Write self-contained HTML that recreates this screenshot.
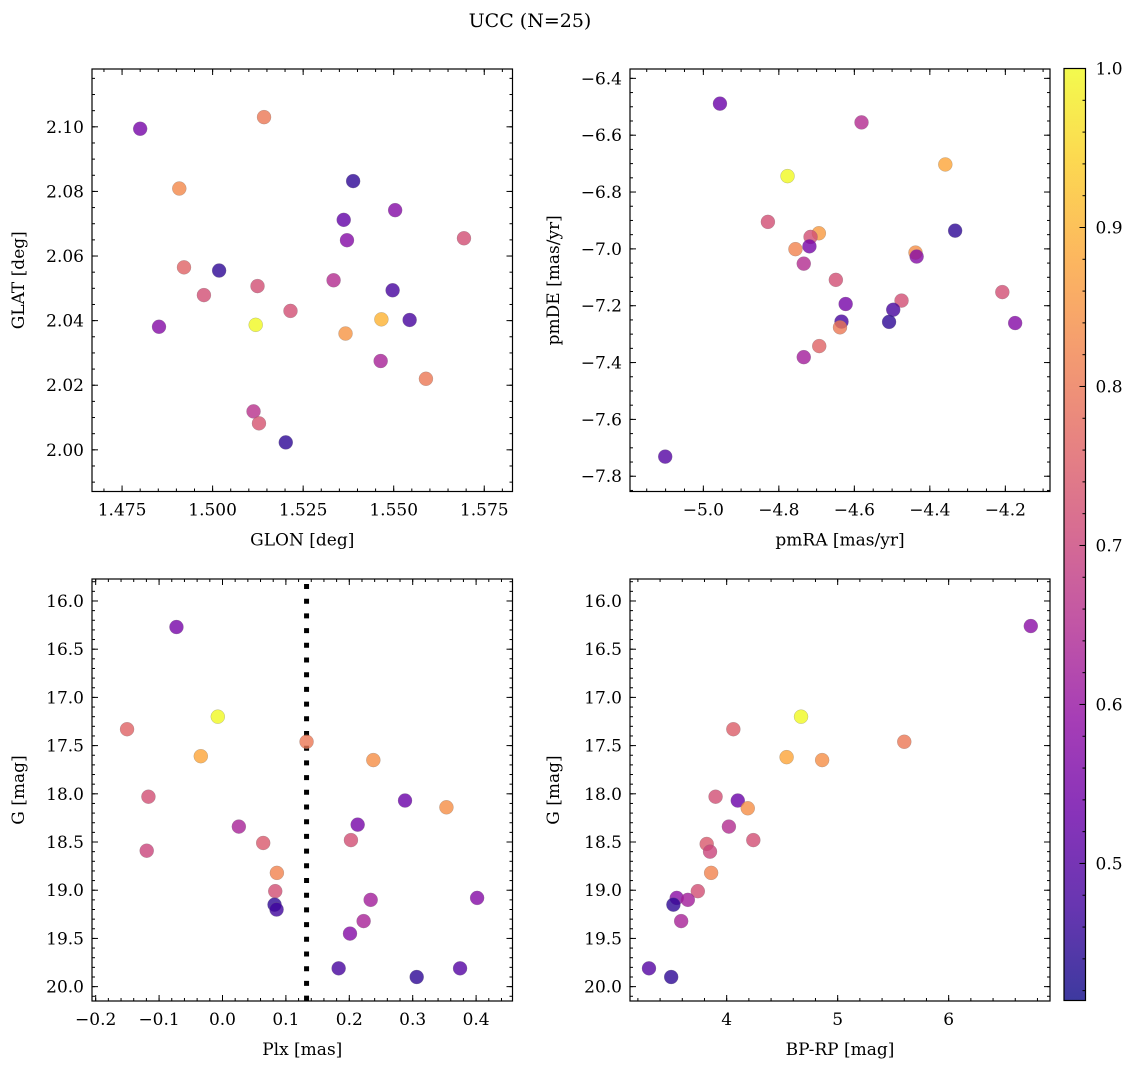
<!DOCTYPE html>
<html><head><meta charset="utf-8"><style>
body{margin:0;background:#fff;overflow:hidden}
svg{display:block;font-family:"DejaVu Serif","Liberation Serif",serif}
</style></head><body>
<svg id="fig" width="1136" height="1068" viewBox="0 0 1136 1068">
<text x="530" y="27" font-size="19" text-anchor="middle">UCC (N=25)</text>
</svg>
<script>
// ---- data ----
const glon = [1.4800,1.5142,1.4908,1.5388,1.5504,1.5362,1.5371,1.5694,1.4921,1.5018,1.5124,1.4976,1.5334,1.5497,1.5215,1.5119,1.4852,1.5466,1.5544,1.5367,1.5464,1.5589,1.5113,1.5128,1.5202];
const glat = [2.0994,2.1030,2.0809,2.0832,2.0742,2.0712,2.0649,2.0655,2.0565,2.0555,2.0507,2.0479,2.0525,2.0494,2.0430,2.0387,2.0381,2.0404,2.0402,2.0360,2.0275,2.0220,2.0119,2.0082,2.0023];
const probA = [0.55,0.80,0.83,0.45,0.57,0.52,0.57,0.72,0.76,0.45,0.72,0.72,0.65,0.48,0.72,1.0,0.57,0.90,0.48,0.85,0.63,0.80,0.66,0.73,0.45];

const pmra = [-4.956,-4.581,-4.777,-4.359,-4.829,-4.333,-4.694,-4.716,-4.719,-4.756,-4.734,-4.438,-4.435,-4.649,-4.623,-4.475,-4.497,-4.508,-4.634,-4.638,-4.208,-4.174,-4.693,-4.734,-5.101];
const pmde = [-6.489,-6.555,-6.744,-6.703,-6.905,-6.936,-6.945,-6.958,-6.991,-7.001,-7.052,-7.013,-7.027,-7.109,-7.194,-7.182,-7.214,-7.257,-7.256,-7.276,-7.152,-7.261,-7.342,-7.381,-7.731];
const probB = [0.53,0.65,1.0,0.88,0.72,0.45,0.86,0.72,0.55,0.82,0.65,0.84,0.57,0.72,0.55,0.72,0.48,0.45,0.48,0.80,0.72,0.57,0.76,0.62,0.50];

const plx = [-0.0726,-0.0074,-0.1505,0.1326,-0.0342,0.2379,-0.1168,0.2879,0.3532,0.0258,0.2132,0.0642,0.2026,-0.1195,0.0858,0.0832,0.2337,0.4016,0.0821,0.0853,0.2226,0.2011,0.1832,0.3747,0.3063];
const gmagC = [16.27,17.20,17.33,17.46,17.61,17.65,18.03,18.07,18.14,18.34,18.32,18.51,18.48,18.59,18.82,19.01,19.10,19.08,19.15,19.20,19.32,19.45,19.81,19.81,19.90];
const probC = [0.55,1.0,0.76,0.80,0.88,0.84,0.72,0.53,0.84,0.63,0.55,0.74,0.72,0.70,0.82,0.72,0.62,0.57,0.45,0.47,0.63,0.57,0.48,0.50,0.45];
const plxLine = [0.1326];

const bprp = [6.74,4.67,4.06,5.60,4.54,4.86,3.90,4.10,4.19,4.02,4.24,3.82,3.85,3.86,3.74,3.55,3.65,3.52,3.59,3.30,3.50];
const gmagD = [16.26,17.20,17.33,17.46,17.62,17.65,18.03,18.07,18.15,18.34,18.48,18.52,18.60,18.82,19.01,19.08,19.10,19.15,19.32,19.81,19.90];
const probD = [0.58,1.0,0.75,0.80,0.88,0.84,0.72,0.53,0.84,0.65,0.72,0.74,0.70,0.82,0.72,0.58,0.62,0.45,0.63,0.50,0.45];

const cbTicks = [0.5,0.6,0.7,0.8,0.9,1.0];
const VMIN = 0.4138, VMAX = 1.0;

// ---- helpers ----
const NS = "http://www.w3.org/2000/svg";
const svg = document.getElementById('fig');
function mk(tag, attrs, parent){const e=document.createElementNS(NS,tag);for(const k in attrs)e.setAttribute(k,attrs[k]);(parent||svg).appendChild(e);return e;}
const plasma=[[13,8,135],[65,4,157],[106,0,168],[143,13,164],[177,42,144],[204,71,120],[225,100,98],[242,132,75],[252,166,54],[252,206,37],[240,249,33]];
function cmap(v){let t=(v-VMIN)/(VMAX-VMIN);t=Math.max(0,Math.min(1,t))*10;const i=Math.min(9,Math.floor(t)),f=t-i;const a=plasma[i],b=plasma[i+1];return `rgb(${a.map((x,j)=>Math.round(x+(b[j]-x)*f)).join(',')})`;}
function fmt(v,d){const s=Math.abs(v).toFixed(d);return (v<-1e-9?'\u2212':'')+s;}
const TF=17, LF=17, ALPHA=0.8;

function panel(o){
  const g=mk('g',{});
  
  
  const X=v=>o.px0+(v-o.x0)/(o.x1-o.x0)*(o.px1-o.px0);
  const Y=o.inv ? (v=>o.py0+(v-o.y0)/(o.y1-o.y0)*(o.py1-o.py0))
                : (v=>o.py1-(v-o.y0)/(o.y1-o.y0)*(o.py1-o.py0));
  const eps=1e-9;
  for(let k=Math.ceil(o.x0/o.xm-eps); k*o.xm<=o.x1+eps; k++){const x=X(k*o.xm);
    mk('line',{x1:x,x2:x,y1:o.py1,y2:o.py1-3,stroke:'#000','stroke-width':1},g);
    mk('line',{x1:x,x2:x,y1:o.py0,y2:o.py0+3,stroke:'#000','stroke-width':1},g);}
  for(let k=Math.ceil(o.y0/o.ym-eps); k*o.ym<=o.y1+eps; k++){const y=Y(k*o.ym);
    mk('line',{x1:o.px0,x2:o.px0+3,y1:y,y2:y,stroke:'#000','stroke-width':1},g);
    mk('line',{x1:o.px1,x2:o.px1-3,y1:y,y2:y,stroke:'#000','stroke-width':1},g);}
  o.xt.forEach(v=>{const x=X(v);
    mk('line',{x1:x,x2:x,y1:o.py1,y2:o.py1-6,stroke:'#000','stroke-width':1},g);
    mk('line',{x1:x,x2:x,y1:o.py0,y2:o.py0+6,stroke:'#000','stroke-width':1},g);
    const t=mk('text',{x:x,y:o.py1+24,'font-size':TF,'text-anchor':'middle'},g);t.textContent=fmt(v,o.xd);
    
    });
  o.yt.forEach(v=>{const y=Y(v);
    mk('line',{x1:o.px0,x2:o.px0+6,y1:y,y2:y,stroke:'#000','stroke-width':1},g);
    mk('line',{x1:o.px1,x2:o.px1-6,y1:y,y2:y,stroke:'#000','stroke-width':1},g);
    const t=mk('text',{x:o.px0-8,y:y+6,'font-size':TF,'text-anchor':'end'},g);t.textContent=fmt(v,o.yd);
    
    });
  if(o.vline){o.vline.forEach(v=>{const l=mk('line',{x1:X(v),x2:X(v),y1:o.py0+5,y2:o.py1,stroke:'#000','stroke-width':5,'stroke-dasharray':'5 9.7'},g);
    
    });}
  o.xs.forEach((v,i)=>{const c=mk('circle',{cx:X(v),cy:Y(o.ys[i]),r:7,fill:cmap(o.cs[i]),'fill-opacity':ALPHA,stroke:'#777','stroke-width':0.4,'stroke-opacity':0.6},g);
    
    });
  mk('rect',{x:o.px0,y:o.py0,width:o.px1-o.px0,height:o.py1-o.py0,fill:'none',stroke:'#000','stroke-width':1.2},g);
  const xl=mk('text',{x:(o.px0+o.px1)/2,y:o.py1+54,'font-size':LF,'text-anchor':'middle'},g);xl.textContent=o.xlab;
  
  
  const cy=(o.py0+o.py1)/2;
  const yl=mk('text',{x:o.ylx,y:cy,'font-size':LF,'text-anchor':'middle',transform:`rotate(-90 ${o.ylx} ${cy})`},g);yl.textContent=o.ylab;
  
  
}

panel({name:'glon-glat-panel',px0:92,px1:512.5,py0:69,py1:491.5,x0:1.4667,x1:1.5828,y0:1.9871,y1:2.1179,
  xt:[1.475,1.5,1.525,1.55,1.575],xd:3,yt:[2.00,2.02,2.04,2.06,2.08,2.10],yd:2,xm:0.005,ym:0.005,
  xs:glon,ys:glat,cs:probA,xlab:'GLON [deg]',ylab:'GLAT [deg]',ylx:24});
panel({name:'proper-motion-panel',px0:630,px1:1050,py0:69,py1:491.5,x0:-5.1943,x1:-4.0817,y0:-7.8537,y1:-6.3671,
  xt:[-5.0,-4.8,-4.6,-4.4,-4.2],xd:1,yt:[-7.8,-7.6,-7.4,-7.2,-7.0,-6.8,-6.6,-6.4],yd:1,xm:0.05,ym:0.05,
  xs:pmra,ys:pmde,cs:probB,xlab:'pmRA [mas/yr]',ylab:'pmDE [mas/yr]',ylx:559});
panel({name:'parallax-magnitude-panel',px0:92,px1:512.5,py0:579,py1:1001,x0:-0.2058,x1:0.4574,y0:15.772,y1:20.149,inv:true,
  xt:[-0.2,-0.1,0.0,0.1,0.2,0.3,0.4],xd:1,yt:[16,16.5,17,17.5,18,18.5,19,19.5,20],yd:1,xm:0.02,ym:0.1,
  xs:plx,ys:gmagC,cs:probC,xlab:'Plx [mas]',ylab:'G [mag]',ylx:24,vline:plxLine});
panel({name:'color-magnitude-panel',px0:630,px1:1050,py0:579,py1:1001,x0:3.129,x1:6.913,y0:15.772,y1:20.149,inv:true,
  xt:[4,5,6],xd:0,yt:[16,16.5,17,17.5,18,18.5,19,19.5,20],yd:1,xm:0.2,ym:0.1,
  xs:bprp,ys:gmagD,cs:probD,xlab:'BP-RP [mag]',ylab:'G [mag]',ylx:559});

// colorbar
const cb=mk('g',{});


const defs=mk('defs',{},cb);
const lg=mk('linearGradient',{id:'cmapg',x1:0,y1:1,x2:0,y2:0},defs);
for(let i=0;i<=10;i++){mk('stop',{offset:i/10,'stop-color':`rgb(${plasma[i].join(',')})`,'stop-opacity':ALPHA},lg);}
const CB={x0:1064,x1:1085.5,y0:68.5,y1:1000.5};
const CY=v=>CB.y1-(v-VMIN)/(VMAX-VMIN)*(CB.y1-CB.y0);
mk('rect',{x:CB.x0,y:CB.y0,width:CB.x1-CB.x0,height:CB.y1-CB.y0,fill:'url(#cmapg)',stroke:'#000','stroke-width':1.2},cb);
for(let k=21;k<=50;k++){const v=k*0.02; if(v<VMIN)continue; const y=CY(v);
  mk('line',{x1:CB.x1,x2:CB.x1-3,y1:y,y2:y,stroke:'#000','stroke-width':1},cb);}
cbTicks.forEach(v=>{const y=CY(v);
  mk('line',{x1:CB.x1,x2:CB.x1-6,y1:y,y2:y,stroke:'#000','stroke-width':1},cb);
  const t=mk('text',{x:CB.x1+10,y:y+6,'font-size':TF},cb);t.textContent=v.toFixed(1);
  
  });
</script>
</body></html>
